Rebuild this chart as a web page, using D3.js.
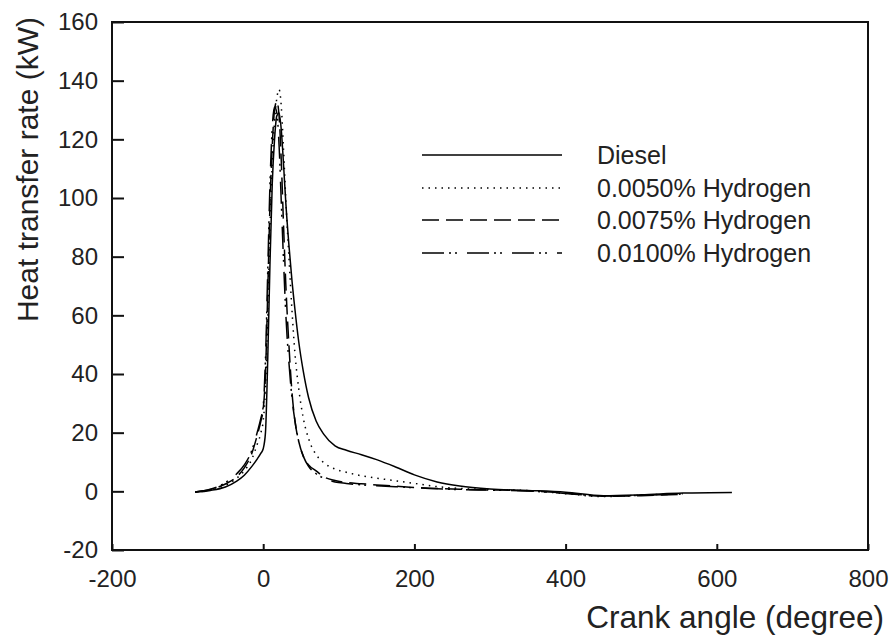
<!DOCTYPE html>
<html>
<head>
<meta charset="utf-8">
<script src="https://cdn.jsdelivr.net/npm/d3@7"></script>
<style>
  html, body { margin: 0; padding: 0; background: #fff; }
  svg { display: block; font-family: "Liberation Sans", Arial, sans-serif; }
</style>
</head>
<body>
<svg id="chart" width="893" height="642"></svg>
<script>
// ---- data ----
const anglesH = [-90, -70, -50, -35, -25, -15, -8, -3, 0, 3, 6, 9, 12, 15, 18, 21, 24, 27, 30, 34, 38, 42, 47, 53, 60, 70, 80, 95, 110, 130, 150, 175, 200, 230, 260, 300, 350, 400, 450, 500, 555];
const anglesDiesel = anglesH.concat([620]);

const diesel = [-0.3, 0.3, 1.5, 3.5, 5.5, 8.5, 11, 13, 14.5, 20, 45, 78, 105, 120, 128, 129, 123, 111, 98, 84, 72, 62, 51, 41, 32, 24, 19.5, 15.5, 14, 12.5, 10.8, 8.3, 5.6, 3.2, 1.8, 0.8, 0.3, -0.3, -1.5, -1.2, -0.6, -0.4];
const h0050 = [-0.3, 0.5, 2, 4.5, 7, 11, 16, 20, 24, 35, 60, 90, 112, 126, 134, 137, 131, 116, 99, 80, 62, 47, 35, 25, 18, 12.5, 9.8, 7.6, 6.5, 5.3, 4.5, 3.6, 2.7, 1.6, 1.0, 0.6, 0.3, -0.8, -1.8, -1.3, -0.8];
const h0075 = [-0.2, 0.6, 2.5, 5, 8, 13, 19, 24, 28, 40, 68, 98, 118, 130, 133, 128, 112, 90, 70, 50, 34, 24, 17, 12, 9, 7, 5, 3.7, 3, 2.6, 2.2, 1.8, 1.3, 1, 0.7, 0.5, 0.2, -0.6, -1.7, -1.5, -1.0];
const h0100 = [-0.2, 0.7, 3, 6, 9, 14, 20, 25, 29, 45, 75, 105, 124, 131, 129, 118, 98, 78, 60, 44, 32, 24, 17, 12, 8.5, 6, 4.5, 3.2, 2.7, 2.2, 1.9, 1.6, 1.2, 0.9, 0.6, 0.4, 0.1, -0.7, -1.6, -1.4, -0.9];

const seriesNames = ["Diesel", "0.0050% Hydrogen", "0.0075% Hydrogen", "0.0100% Hydrogen"];
const xTicks = [-200, 0, 200, 400, 600, 800];
const yTicks = [-20, 0, 20, 40, 60, 80, 100, 120, 140, 160];

// ---- layout ----
const svg = d3.select("#chart");
const L = 112, R = 868, T = 22, B = 550;
const x = d3.scaleLinear().domain([-200, 800]).range([L, R]);
const y = d3.scaleLinear().domain([-20, 160]).range([B, T]);

const dashes = ["none", "1.5,5", "17,7", "22,5,2,4,2,10"];
const series = [
  { name: seriesNames[0], xs: anglesDiesel, ys: diesel, dash: dashes[0] },
  { name: seriesNames[1], xs: anglesH, ys: h0050, dash: dashes[1] },
  { name: seriesNames[2], xs: anglesH, ys: h0075, dash: dashes[2] },
  { name: seriesNames[3], xs: anglesH, ys: h0100, dash: dashes[3] }
];

// axes
const fmt = d => String(d);
const yAxis = d3.axisLeft(y).tickValues(yTicks).tickFormat(fmt).tickSize(-12).tickPadding(14);
const xAxis = d3.axisBottom(x).tickValues(xTicks).tickFormat(fmt).tickSize(-6).tickPadding(20);

const gy = svg.append("g").attr("transform", `translate(${L},0)`).call(yAxis);
const gx = svg.append("g").attr("transform", `translate(0,${B})`).call(xAxis);
[gx, gy].forEach(g => {
  g.select(".domain").remove();
  g.selectAll(".tick line").attr("stroke", "#111").attr("stroke-width", 2);
  g.selectAll(".tick text").attr("fill", "#222").style("font-size", "24px")
    .style("font-family", "'Liberation Sans', Arial, sans-serif");
});

// frame
svg.append("rect").attr("x", L).attr("y", T).attr("width", R - L).attr("height", B - T)
  .attr("fill", "none").attr("stroke", "#111").attr("stroke-width", 2);

// lines
const line = d3.line().x(d => x(d[0])).y(d => y(d[1])).curve(d3.curveMonotoneX);
series.forEach(s => {
  const pts = s.xs.map((a, i) => [a, s.ys[i]]);
  svg.append("path").datum(pts).attr("d", line)
    .attr("fill", "none").attr("stroke", "#000").attr("stroke-width", 1.5)
    .attr("stroke-dasharray", s.dash);
});

// legend
const legY = [155, 188, 220, 253];
series.forEach((s, i) => {
  svg.append("line").attr("x1", 422).attr("x2", 562).attr("y1", legY[i]).attr("y2", legY[i])
    .attr("stroke", "#000").attr("stroke-width", 1.5).attr("stroke-dasharray", s.dash);
  svg.append("text").attr("x", 597).attr("y", legY[i] + 9)
    .attr("fill", "#222").style("font-size", "25px").text(s.name);
});

// axis titles
svg.append("text").attr("x", 884).attr("y", 628).attr("text-anchor", "end")
  .attr("fill", "#222").style("font-size", "31.5px").text("Crank angle (degree)");
svg.append("text").attr("transform", "translate(38,17) rotate(-90)").attr("text-anchor", "end")
  .attr("fill", "#222").style("font-size", "30px").text("Heat transfer rate (kW)");
</script>
</body>
</html>
